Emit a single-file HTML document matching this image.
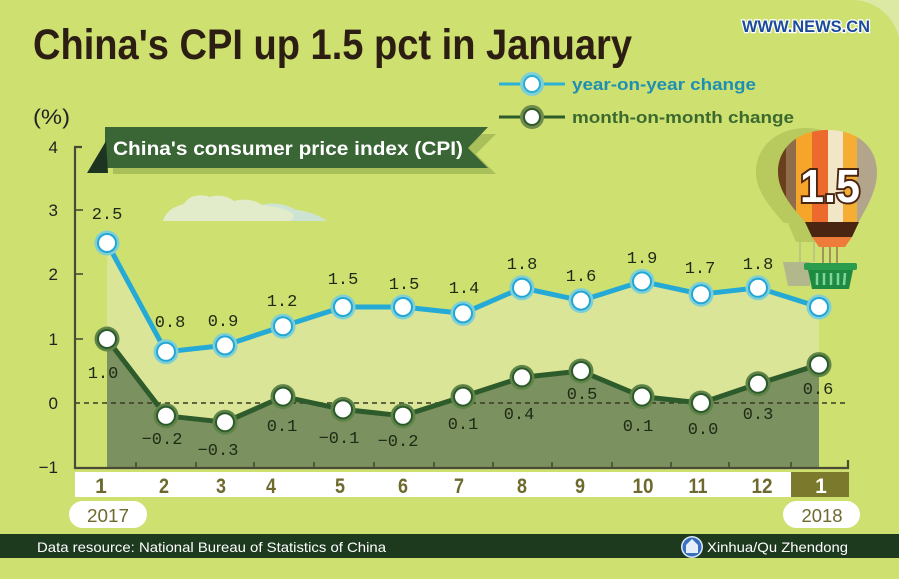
<!DOCTYPE html>
<html><head><meta charset="utf-8"><style>
html,body{margin:0;padding:0;background:#cde070;}
svg{display:block;}
text{font-family:"Liberation Sans",sans-serif;}
.mono{font-family:"Liberation Mono",monospace;font-size:17px;fill:#1e2a14;text-anchor:middle;}
.ax{font-size:17px;fill:#222;text-anchor:end;}
.mo{font-size:21px;fill:#6e6a2e;text-anchor:middle;font-weight:bold;}
</style></head><body>
<svg width="899" height="579" viewBox="0 0 899 579" xmlns="http://www.w3.org/2000/svg">
<defs>
<clipPath id="env"><path d="M806,223 C790,205 778,190 778,172 C778,146 800,130 828,130 C856,130 877,146 877,172 C877,190 868,205 858,223 Z"/></clipPath>
</defs>
<rect x="0" y="0" width="899" height="579" fill="#dce9a4"/>
<path d="M0,0 H852 A48,48 0 0 1 900,48 V579 H0 Z" fill="#cde070"/>

<!-- title -->
<text x="33" y="59" font-size="43" font-weight="bold" fill="#2c1e12" textLength="599" lengthAdjust="spacingAndGlyphs">China's CPI up 1.5 pct in January</text>
<text x="742" y="32" font-size="17" font-weight="bold" fill="#1b4b9a" stroke="#fff" stroke-width="2.5" paint-order="stroke" textLength="128" lengthAdjust="spacingAndGlyphs">WWW.NEWS.CN</text>

<!-- legend -->
<line x1="499" y1="84" x2="565" y2="84" stroke="#2bb0d6" stroke-width="3"/>
<circle cx="532" cy="84" r="12" fill="#7fd0d5"/><circle cx="532" cy="84" r="9" fill="#2aaed6"/><circle cx="532" cy="84" r="7" fill="#fff"/>
<text x="572" y="90" font-size="17" font-weight="bold" fill="#1e8fb2" textLength="184" lengthAdjust="spacingAndGlyphs">year-on-year change</text>
<line x1="499" y1="117" x2="565" y2="117" stroke="#2f5a2a" stroke-width="3"/>
<circle cx="532" cy="117" r="12" fill="#6e8a4c"/><circle cx="532" cy="117" r="9" fill="#2f5a2a"/><circle cx="532" cy="117" r="7" fill="#fff"/>
<text x="572" y="123" font-size="17" font-weight="bold" fill="#3c6a2e" textLength="222" lengthAdjust="spacingAndGlyphs">month-on-month change</text>

<!-- (%) and banner -->
<text x="33" y="124" font-size="21" fill="#222" textLength="37" lengthAdjust="spacingAndGlyphs">(%)</text>
<polygon points="113,134 496,134 476,154 496,174 113,174" fill="#a9c05a"/>
<polygon points="105,127 488,127 468,148 488,168 105,168" fill="#3a6535"/>
<polygon points="87,173 106,141 108,173" fill="#1d3520"/>
<text x="113" y="155" font-size="19" font-weight="bold" fill="#fff" textLength="350" lengthAdjust="spacingAndGlyphs">China's consumer price index  (CPI)</text>

<!-- cloud -->
<path d="M163,221 C166,210 176,206 184,204 C188,196 200,193 210,197 C218,194 228,196 234,201 C244,198 256,200 262,205 C272,202 286,204 296,210 C308,211 320,216 327,221 Z" fill="#e2ecca"/>
<path d="M262,205 C272,202 286,204 296,210 C308,211 320,216 327,221 L290,221 C300,215 290,208 262,205 Z" fill="#cde3d4"/>

<!-- fills -->
<polygon points="107,243 166,351.8 225,345.4 283,326.2 343,307 403,307 463,313.4 522,287.8 581,300.6 642,281.4 701,294.2 758,287.8 819,307 819,468 107,468" fill="#dbe597"/>
<polygon points="107,339 166,415.8 225,422.2 283,396.6 343,409.4 403,415.8 463,396.6 522,377.4 581,371 642,396.6 701,403 758,383.8 819,364.6 819,468 107,468" fill="#7b9160"/>

<!-- zero line -->
<line x1="75" y1="403" x2="848" y2="403" stroke="#3a3a22" stroke-width="1.6" stroke-dasharray="5,4"/>

<!-- axes -->
<path d="M82,147 H75 V468 H848 V460" fill="none" stroke="#4a4a36" stroke-width="2.2"/>
<g stroke="#4a4a36" stroke-width="1.6">
<line x1="75" y1="210" x2="83" y2="210"/><line x1="75" y1="274" x2="83" y2="274"/><line x1="75" y1="339" x2="83" y2="339"/>
<line x1="136" y1="468" x2="136" y2="462"/><line x1="196" y1="468" x2="196" y2="462"/><line x1="254" y1="468" x2="254" y2="462"/><line x1="314" y1="468" x2="314" y2="462"/>
<line x1="374" y1="468" x2="374" y2="462"/><line x1="434" y1="468" x2="434" y2="462"/><line x1="493" y1="468" x2="493" y2="462"/><line x1="552" y1="468" x2="552" y2="462"/>
<line x1="612" y1="468" x2="612" y2="462"/><line x1="671" y1="468" x2="671" y2="462"/><line x1="729" y1="468" x2="729" y2="462"/><line x1="791" y1="468" x2="791" y2="462"/>
</g>
<text class="ax" x="58" y="153">4</text>
<text class="ax" x="58" y="216">3</text>
<text class="ax" x="58" y="280">2</text>
<text class="ax" x="58" y="345">1</text>
<text class="ax" x="58" y="409">0</text>
<text class="ax" x="58" y="473">−1</text>

<!-- lines -->
<polyline points="107,339 166,415.8 225,422.2 283,396.6 343,409.4 403,415.8 463,396.6 522,377.4 581,371 642,396.6 701,403 758,383.8 819,364.6" fill="none" stroke="#2e5b2b" stroke-width="5" stroke-linejoin="round"/>
<polyline points="107,243 166,351.8 225,345.4 283,326.2 343,307 403,307 463,313.4 522,287.8 581,300.6 642,281.4 701,294.2 758,287.8 819,307" fill="none" stroke="#25aad6" stroke-width="5" stroke-linejoin="round"/>

<!-- mom points -->
<g>
<g fill="#5f8447">
<circle cx="107" cy="339" r="12.5"/><circle cx="166" cy="415.8" r="12.5"/><circle cx="225" cy="422.2" r="12.5"/><circle cx="283" cy="396.6" r="12.5"/><circle cx="343" cy="409.4" r="12.5"/><circle cx="403" cy="415.8" r="12.5"/><circle cx="463" cy="396.6" r="12.5"/><circle cx="522" cy="377.4" r="12.5"/><circle cx="581" cy="371" r="12.5"/><circle cx="642" cy="396.6" r="12.5"/><circle cx="701" cy="403" r="12.5"/><circle cx="758" cy="383.8" r="12.5"/><circle cx="819" cy="364.6" r="12.5"/>
</g>
<g fill="#2d5a2a">
<circle cx="107" cy="339" r="10"/><circle cx="166" cy="415.8" r="10"/><circle cx="225" cy="422.2" r="10"/><circle cx="283" cy="396.6" r="10"/><circle cx="343" cy="409.4" r="10"/><circle cx="403" cy="415.8" r="10"/><circle cx="463" cy="396.6" r="10"/><circle cx="522" cy="377.4" r="10"/><circle cx="581" cy="371" r="10"/><circle cx="642" cy="396.6" r="10"/><circle cx="701" cy="403" r="10"/><circle cx="758" cy="383.8" r="10"/><circle cx="819" cy="364.6" r="10"/>
</g>
<g fill="#fff">
<circle cx="107" cy="339" r="8"/><circle cx="166" cy="415.8" r="8"/><circle cx="225" cy="422.2" r="8"/><circle cx="283" cy="396.6" r="8"/><circle cx="343" cy="409.4" r="8"/><circle cx="403" cy="415.8" r="8"/><circle cx="463" cy="396.6" r="8"/><circle cx="522" cy="377.4" r="8"/><circle cx="581" cy="371" r="8"/><circle cx="642" cy="396.6" r="8"/><circle cx="701" cy="403" r="8"/><circle cx="758" cy="383.8" r="8"/><circle cx="819" cy="364.6" r="8"/>
</g>
</g>
<!-- yoy points -->
<g>
<g fill="#7fd0d5">
<circle cx="107" cy="243" r="12.5"/><circle cx="166" cy="351.8" r="12.5"/><circle cx="225" cy="345.4" r="12.5"/><circle cx="283" cy="326.2" r="12.5"/><circle cx="343" cy="307" r="12.5"/><circle cx="403" cy="307" r="12.5"/><circle cx="463" cy="313.4" r="12.5"/><circle cx="522" cy="287.8" r="12.5"/><circle cx="581" cy="300.6" r="12.5"/><circle cx="642" cy="281.4" r="12.5"/><circle cx="701" cy="294.2" r="12.5"/><circle cx="758" cy="287.8" r="12.5"/><circle cx="819" cy="307" r="12.5"/>
</g>
<g fill="#22a6d5">
<circle cx="107" cy="243" r="10"/><circle cx="166" cy="351.8" r="10"/><circle cx="225" cy="345.4" r="10"/><circle cx="283" cy="326.2" r="10"/><circle cx="343" cy="307" r="10"/><circle cx="403" cy="307" r="10"/><circle cx="463" cy="313.4" r="10"/><circle cx="522" cy="287.8" r="10"/><circle cx="581" cy="300.6" r="10"/><circle cx="642" cy="281.4" r="10"/><circle cx="701" cy="294.2" r="10"/><circle cx="758" cy="287.8" r="10"/><circle cx="819" cy="307" r="10"/>
</g>
<g fill="#fff">
<circle cx="107" cy="243" r="8"/><circle cx="166" cy="351.8" r="8"/><circle cx="225" cy="345.4" r="8"/><circle cx="283" cy="326.2" r="8"/><circle cx="343" cy="307" r="8"/><circle cx="403" cy="307" r="8"/><circle cx="463" cy="313.4" r="8"/><circle cx="522" cy="287.8" r="8"/><circle cx="581" cy="300.6" r="8"/><circle cx="642" cy="281.4" r="8"/><circle cx="701" cy="294.2" r="8"/><circle cx="758" cy="287.8" r="8"/><circle cx="819" cy="307" r="8"/>
</g>
</g>

<!-- yoy labels -->
<text class="mono" x="107" y="219">2.5</text>
<text class="mono" x="170" y="327">0.8</text>
<text class="mono" x="223" y="326">0.9</text>
<text class="mono" x="282" y="306">1.2</text>
<text class="mono" x="343" y="284">1.5</text>
<text class="mono" x="404" y="289">1.5</text>
<text class="mono" x="464" y="293">1.4</text>
<text class="mono" x="522" y="269">1.8</text>
<text class="mono" x="581" y="281">1.6</text>
<text class="mono" x="642" y="263">1.9</text>
<text class="mono" x="700" y="273">1.7</text>
<text class="mono" x="758" y="269">1.8</text>
<!-- mom labels -->
<text class="mono" x="103" y="378">1.0</text>
<text class="mono" x="162" y="444">−0.2</text>
<text class="mono" x="218" y="455">−0.3</text>
<text class="mono" x="282" y="431">0.1</text>
<text class="mono" x="339" y="443">−0.1</text>
<text class="mono" x="398" y="446">−0.2</text>
<text class="mono" x="463" y="429">0.1</text>
<text class="mono" x="519" y="419">0.4</text>
<text class="mono" x="582" y="399">0.5</text>
<text class="mono" x="638" y="431">0.1</text>
<text class="mono" x="703" y="434">0.0</text>
<text class="mono" x="758" y="419">0.3</text>
<text class="mono" x="818" y="394">0.6</text>

<!-- balloon shadow -->
<g fill="#b8c95e">
<path d="M784,223 C768,205 756,190 756,172 C756,146 778,128 806,128 C834,128 855,146 855,172 C855,190 846,205 836,223 Z"/>
<polygon points="788,223 834,223 826,242 796,242"/>
</g>
<g stroke="#b0b98a" stroke-width="1.2"><line x1="800" y1="242" x2="800" y2="262"/><line x1="814" y1="242" x2="814" y2="262"/></g>
<polygon points="783,262 810,262 810,286 788,286" fill="#b3b88c"/>
<!-- balloon -->
<g clip-path="url(#env)">
<rect x="770" y="125" width="16" height="100" fill="#6a3f1c"/>
<rect x="786" y="125" width="10" height="100" fill="#8f6c4a"/>
<rect x="796" y="125" width="16" height="100" fill="#f6a52b"/>
<rect x="812" y="125" width="16" height="100" fill="#ec6a2c"/>
<rect x="828" y="125" width="15" height="100" fill="#f1e7c6"/>
<rect x="843" y="125" width="14" height="100" fill="#f5ad34"/>
<rect x="857" y="125" width="25" height="100" fill="#b3a48c"/>
</g>
<polygon points="805,222 859,222 852,237 812,237" fill="#4a2612"/>
<polygon points="812,237 852,237 845,247 819,247" fill="#ef7b3a"/>
<g stroke="#8a6a50" stroke-width="1.3"><line x1="823" y1="247" x2="823" y2="265"/><line x1="837" y1="247" x2="837" y2="265"/><line x1="830" y1="247" x2="830" y2="265"/></g>
<rect x="804" y="263" width="53" height="7" rx="2" fill="#2a9c4e"/>
<polygon points="808,270 853,270 849,289 812,289" fill="#1e8a42"/>
<g stroke="#7fd69a" stroke-width="2.5"><line x1="817" y1="273" x2="817" y2="285"/><line x1="824" y1="273" x2="824" y2="285"/><line x1="831" y1="273" x2="831" y2="285"/><line x1="838" y1="273" x2="838" y2="285"/><line x1="845" y1="273" x2="844" y2="285"/></g>
<text x="830" y="202" font-size="46" font-weight="bold" fill="#fff" stroke="#4a2612" stroke-width="4" paint-order="stroke" text-anchor="middle" textLength="60" lengthAdjust="spacingAndGlyphs">1.5</text>

<!-- month band -->
<rect x="75" y="472" width="716" height="25" fill="#fff"/>
<rect x="791" y="472" width="58" height="25" fill="#7b7a2c"/>
<text class="mo" x="101" y="493">1</text>
<text class="mo" x="164" y="493" textLength="10" lengthAdjust="spacingAndGlyphs">2</text>
<text class="mo" x="221" y="493" textLength="10" lengthAdjust="spacingAndGlyphs">3</text>
<text class="mo" x="271" y="493" textLength="10" lengthAdjust="spacingAndGlyphs">4</text>
<text class="mo" x="340" y="493" textLength="10" lengthAdjust="spacingAndGlyphs">5</text>
<text class="mo" x="403" y="493" textLength="10" lengthAdjust="spacingAndGlyphs">6</text>
<text class="mo" x="459" y="493" textLength="10" lengthAdjust="spacingAndGlyphs">7</text>
<text class="mo" x="522" y="493" textLength="10" lengthAdjust="spacingAndGlyphs">8</text>
<text class="mo" x="580" y="493" textLength="10" lengthAdjust="spacingAndGlyphs">9</text>
<text class="mo" x="643" y="493" textLength="21" lengthAdjust="spacingAndGlyphs">10</text>
<text class="mo" x="698" y="493" textLength="19" lengthAdjust="spacingAndGlyphs">11</text>
<text class="mo" x="762" y="493" textLength="21" lengthAdjust="spacingAndGlyphs">12</text>
<text class="mo" x="821" y="493" style="fill:#fff">1</text>

<!-- year pills -->
<rect x="69" y="501" width="78" height="27" rx="13.5" fill="#fff"/>
<rect x="783" y="501" width="77" height="27" rx="13.5" fill="#fff"/>
<text x="108" y="522" font-size="18" fill="#6e6a2e" text-anchor="middle" textLength="42" lengthAdjust="spacingAndGlyphs">2017</text>
<text x="822" y="522" font-size="18" fill="#6e6a2e" text-anchor="middle" textLength="41" lengthAdjust="spacingAndGlyphs">2018</text>

<!-- footer -->
<rect x="0" y="534" width="899" height="24" fill="#1d3a1f"/>
<text x="37" y="552" font-size="14" fill="#fff" textLength="349" lengthAdjust="spacingAndGlyphs">Data resource: National Bureau of Statistics of China</text>
<circle cx="692" cy="547" r="11" fill="#dfe8f5"/>
<circle cx="692" cy="547" r="9.5" fill="#3a6fc0"/>
<path d="M686,553 V545 L692,539 L698,545 V553 Z" fill="#e6eef8"/>
<text x="707" y="552" font-size="14" fill="#fff" textLength="141" lengthAdjust="spacingAndGlyphs">Xinhua/Qu Zhendong</text>
</svg>
</body></html>
